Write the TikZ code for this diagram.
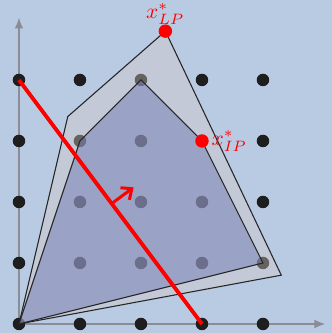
\documentclass[tikz,border=0pt]{standalone}
\usetikzlibrary{arrows.meta}
\definecolor{bgblue}{RGB}{185,203,227}
\definecolor{lpfill}{RGB}{212,200,195}
\definecolor{ipfill}{RGB}{114,124,182}
\definecolor{dotblack}{RGB}{30,30,30}
\definecolor{axisgray}{RGB}{140,140,150}
\tikzset{
  latdot/.style={circle,fill=dotblack,inner sep=0pt,minimum size=0.205cm},
  optdot/.style={circle,fill=red,inner sep=0pt,minimum size=0.22cm},
  axisline/.style={draw=axisgray,line width=0.5pt,-{Latex[length=5pt,width=4pt]}},
  lppoly/.style={fill=lpfill,fill opacity=0.4,draw=black!85,line width=0.5pt},
  ippoly/.style={fill=ipfill,fill opacity=0.5,draw=black!85,line width=0.5pt},
  cutline/.style={draw=red,line width=1.8pt},
  normalarrow/.style={draw=red,line width=1.4pt,-{Straight Barb[length=4pt,width=7pt]}},
  optlabel/.style={text=red,inner sep=0pt}
}
\begin{document}
\begin{tikzpicture}
\fill[bgblue] (-0.311,-0.148) rectangle (5.131,5.311);
\useasboundingbox (-0.311,-0.148) rectangle (5.131,5.311);
\coordinate (O) at (0,0);
\coordinate (xend) at (5.02,0);
\coordinate (yend) at (0,5.02);
\draw[axisline] (O) -- (xend);
\draw[axisline] (O) -- (yend);
\foreach \i in {0,...,4}{
  \foreach \j in {0,...,4}{
    \node[latdot] (p\i\j) at (\i,\j) {};
  }
}
\coordinate (A) at (0,0);
\coordinate (B) at (0.8,3.4);
\coordinate (C) at (2.4,4.8);
\coordinate (D) at (4.3,0.8);
\path[lppoly] (A) -- (B) -- (C) -- (D) -- cycle;
\path[ippoly] (0,0) -- (1,3) -- (2,4) -- (3,3) -- (4,1) -- cycle;
\coordinate (cs) at (0,4);
\coordinate (ce) at (3,0);
\draw[cutline] (cs) -- (ce);
\coordinate (nb) at (1.52,1.973);
\coordinate (nt) at (1.88,2.24);
\draw[normalarrow] (nb) -- (nt);
\node[optdot] (xlp) at (C) {};
\node[optdot] (xip) at (3,3) {};
\node[optlabel,anchor=south,yshift=-0.5pt] (llp) at (xlp.north) {$x^*_{LP}$};
\node[optlabel,anchor=west,xshift=1pt] (lip) at (xip.east) {$x^*_{IP}$};
\end{tikzpicture}
\end{document}
